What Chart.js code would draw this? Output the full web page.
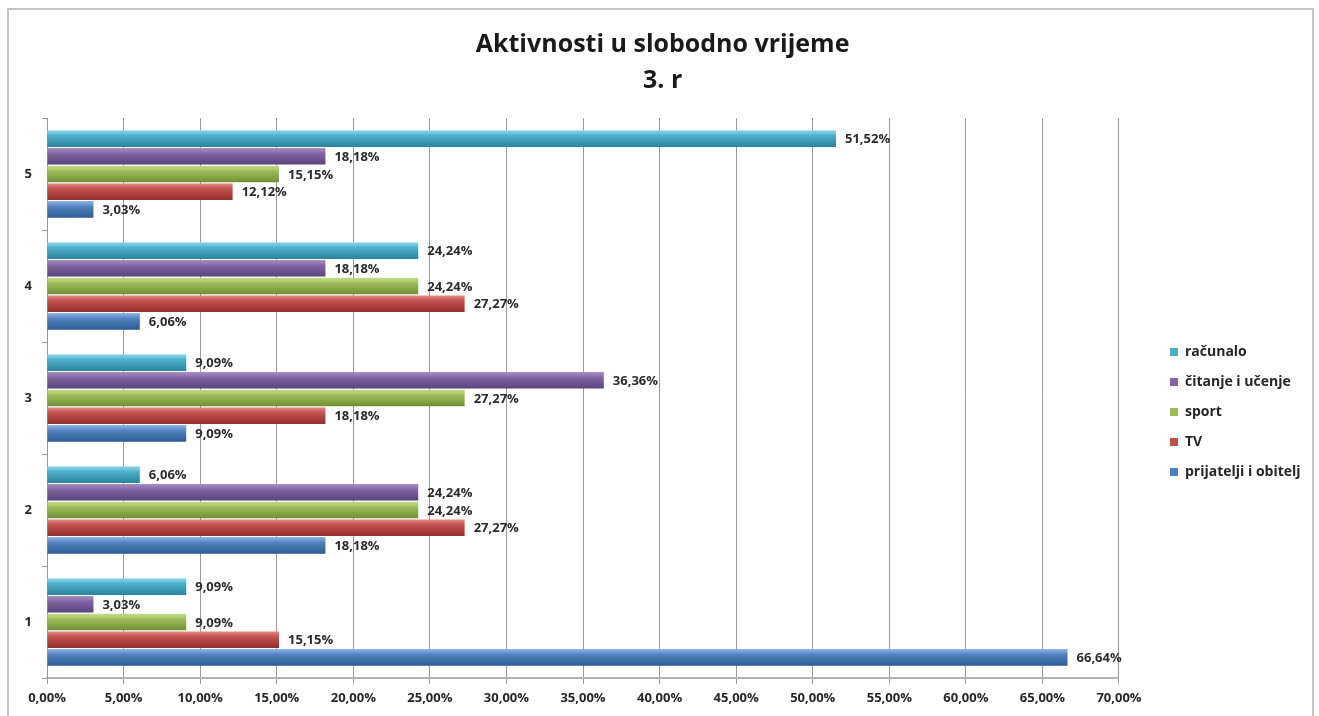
<!DOCTYPE html>
<html><head><meta charset="utf-8">
<script src="https://cdn.jsdelivr.net/npm/chart.js@4.4.1/dist/chart.umd.min.js"></script>
<style>html,body{margin:0;padding:0;background:#fff;overflow:hidden}#wrap{position:relative;width:1319px;height:716px}</style>
</head><body><div id="wrap"><canvas id="c" width="1319" height="716"></canvas></div>
<script>
// ---- data ----
const categories = ['1', '2', '3', '4', '5'];
const seriesNames = ['računalo', 'čitanje i učenje', 'sport', 'TV', 'prijatelji i obitelj'];
const racunalo   = [9.09, 6.06, 9.09, 24.24, 51.52];
const citanje    = [3.03, 24.24, 36.36, 18.18, 18.18];
const sport      = [9.09, 24.24, 27.27, 24.24, 15.15];
const tv         = [15.15, 27.27, 18.18, 27.27, 12.12];
const prijatelji = [66.64, 18.18, 9.09, 6.06, 3.03];
const titleLines = ['Aktivnosti u slobodno vrijeme', '3. r'];
const xMin = 0, xMax = 70, xStep = 5;

// ---- styles ----
const palette = [
  ['#8fdcef', '#4bacc6', '#2a859e'],
  ['#a891cb', '#8064a2', '#5b437c'],
  ['#c6e08a', '#9bbb59', '#718f34'],
  ['#e38683', '#c0504d', '#932f2c'],
  ['#8cb4e6', '#4f81bd', '#2c5b94']
];
const FONT = '"Open Sans", "DejaVu Sans", sans-serif';
const fmt = v => v.toFixed(2).replace('.', ',') + '%';

function barFill(cols) {
  return (c) => {
    const el = c.element;
    if (!el || typeof el.y !== 'number' || !el.height) return cols[1];
    const y0 = el.y - el.height / 2, y1 = el.y + el.height / 2;
    const g = c.chart.ctx.createLinearGradient(0, y0, 0, y1);
    g.addColorStop(0, cols[0]);
    g.addColorStop(0.35, cols[1]);
    g.addColorStop(1, cols[2]);
    return g;
  };
}

const seriesData = [racunalo, citanje, sport, tv, prijatelji];
const datasets = seriesNames.map((name, i) => ({
  label: name,
  data: seriesData[i],
  backgroundColor: barFill(palette[i]),
  borderWidth: 0,
  categoryPercentage: 0.79,
  barPercentage: 0.94
}));

const frame = {
  id: 'frame',
  beforeDraw(chart) {
    const ctx = chart.ctx;
    ctx.save();
    ctx.fillStyle = '#fff';
    ctx.fillRect(0, 0, chart.width, chart.height);
    ctx.strokeStyle = '#c4c4c4';
    ctx.lineWidth = 2;
    ctx.strokeRect(8, 9, 1305, 730);
    ctx.restore();
  }
};

const valueLabels = {
  id: 'valueLabels',
  afterDatasetsDraw(chart) {
    const ctx = chart.ctx;
    ctx.save();
    ctx.font = 'bold 13px ' + FONT;
    ctx.fillStyle = '#2b2b2b';
    ctx.textBaseline = 'middle';
    ctx.textAlign = 'left';
    chart.data.datasets.forEach((ds, di) => {
      const meta = chart.getDatasetMeta(di);
      meta.data.forEach((bar, i) => {
        ctx.fillText(fmt(ds.data[i]), bar.x + 9, bar.y + 1);
      });
    });
    ctx.restore();
  }
};

Chart.defaults.font.family = FONT;
Chart.defaults.color = '#262626';

const chart = new Chart(document.getElementById('c'), {
  type: 'bar',
  data: { labels: categories, datasets },
  options: {
    indexAxis: 'y',
    responsive: false,
    animation: false,
    events: [],
    layout: { padding: { left: 14.6, right: 8.4, top: 0, bottom: 4.4 } },
    scales: {
      x: {
        type: 'linear', position: 'bottom', min: xMin, max: xMax,
        ticks: { stepSize: xStep, padding: 6, font: { size: 13, weight: 'bold' }, color: '#262626',
                 callback: v => fmt(v) },
        grid: { color: '#9a9a9a', lineWidth: 1, tickLength: 6 },
        border: { color: '#b3b3b3', width: 2 }
      },
      y: {
        type: 'category', position: 'left', reverse: true,
        ticks: { padding: 10, font: { size: 13, weight: 'bold' }, color: '#262626' },
        grid: { display: true, drawOnChartArea: false, color: '#9a9a9a', tickLength: 5, offset: true },
        border: { color: '#9a9a9a', width: 1 }
      },
      spacer: {
        type: 'linear', position: 'right', display: true,
        grid: { display: false }, border: { display: false }, ticks: { display: false },
        afterFit(s) { s.width = 35; }
      }
    },
    plugins: {
      title: {
        display: true, text: titleLines, color: '#1a1a1a',
        font: { size: 25, weight: 'bold', lineHeight: '36px' },
        padding: { top: 27, bottom: 19 }
      },
      legend: {
        position: 'right', fullSize: false,
        title: { display: true, text: ' ', font: { size: 10, lineHeight: '12px' }, padding: { top: 16, bottom: 0 } },
        labels: {
          boxWidth: 8, boxHeight: 8, padding: 16, color: '#262626', font: { size: 14, weight: 'bold' },
          generateLabels(ch) {
            const items = Chart.defaults.plugins.legend.labels.generateLabels(ch);
            items.forEach((it) => { it.fillStyle = palette[it.datasetIndex][1]; it.strokeStyle = palette[it.datasetIndex][2]; it.lineWidth = 0; });
            return items;
          }
        }
      },
      tooltip: { enabled: false }
    }
  },
  plugins: [frame, valueLabels]
});
chart.update('none');
</script></body></html>
